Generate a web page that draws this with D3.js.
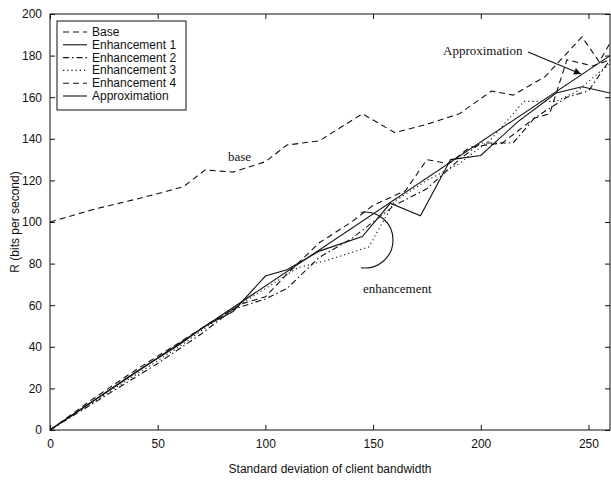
<!DOCTYPE html>
<html><head><meta charset="utf-8">
<script src="https://cdn.jsdelivr.net/npm/d3@7/dist/d3.min.js"></script>
<style>body{margin:0;background:#fff}svg{display:block}</style>
</head><body>
<svg id="c" width="611" height="489"></svg>
<script>
const xTicks = [0, 50, 100, 150, 200, 250];
const yTicks = [0, 20, 40, 60, 80, 100, 120, 140, 160, 180, 200];
const seriesNames = ["Base", "Enhancement 1", "Enhancement 2", "Enhancement 3", "Enhancement 4", "Approximation"];
const base = [[0,100],[20,106],[40,111],[55,115],[62,117],[72,125],[85,124],[100,129],[110,137],[125,139],[145,152],[160,143],[175,147],[190,152],[205,163],[215,161],[230,170],[247,189],[255,177],[260,186]];
const enh1 = [[0,0],[20,14],[40,28],[60,41],[72,50],[85,57],[100,74],[110,77],[125,86],[145,93],[158,109],[172,103],[186,130],[200,132],[217,148],[235,162],[247,165],[260,162]];
const enh2 = [[0,0],[25,16],[50,32],[70,46],[85,58],[100,63],[110,68],[125,83],[140,92],[150,100],[160,108],[175,116],[190,130],[200,138],[215,138],[225,150],[240,160],[250,163],[260,178]];
const enh3 = [[0,0],[30,20],[60,40],[80,55],[100,68],[115,78],[130,82],[148,88],[160,110],[175,120],[190,128],[205,140],[220,158],[235,158],[245,163],[255,172],[260,176]];
const enh4 = [[0,0],[20,15],[40,29],[60,42],[75,52],[90,61],[100,64],[110,75],[125,90],[140,100],[150,108],[165,115],[175,130],[185,128],[195,136],[210,138],[225,150],[232,152],[240,178],[252,175],[260,178]];
const approx = [[0,0],[260,180]];

const svg = d3.select("#c");
const L = 50, R = 610, T = 14, B = 430;
const x = d3.scaleLinear().domain([0, 260]).range([L, R]);
const y = d3.scaleLinear().domain([0, 200]).range([B, T]);

const ink = "#111";
const tickFont = "Liberation Sans, Arial, sans-serif";
const serif = "Liberation Serif, Times New Roman, serif";

const gx = svg.append("g").attr("transform", `translate(0,${B})`)
  .call(d3.axisBottom(x).tickValues(xTicks).tickSizeInner(-5).tickSizeOuter(0).tickPadding(9));
const gxt = svg.append("g").attr("transform", `translate(0,${T})`)
  .call(d3.axisTop(x).tickValues(xTicks).tickSizeInner(-5).tickSizeOuter(0).tickFormat(""));
const gy = svg.append("g").attr("transform", `translate(${L},0)`)
  .call(d3.axisLeft(y).tickValues(yTicks).tickSizeInner(-5).tickSizeOuter(0).tickPadding(8));
const gyr = svg.append("g").attr("transform", `translate(${R},0)`)
  .call(d3.axisRight(y).tickValues(yTicks).tickSizeInner(-5).tickSizeOuter(0).tickFormat(""));
[gx, gxt, gy, gyr].forEach(g => {
  g.select(".domain").remove();
  g.selectAll("line").attr("stroke", ink);
  g.selectAll("text").attr("fill", ink).attr("font-family", tickFont).attr("font-size", 12);
});
svg.append("rect").attr("x", L).attr("y", T).attr("width", R - L).attr("height", B - T)
  .attr("fill", "none").attr("stroke", ink).attr("stroke-width", 1);

svg.append("text").attr("x", (L + R) / 2).attr("y", 473).attr("text-anchor", "middle")
  .attr("font-family", tickFont).attr("font-size", 12).attr("fill", ink)
  .text("Standard deviation of client bandwidth");
svg.append("text").attr("transform", `translate(19,${(T + B) / 2}) rotate(-90)`).attr("text-anchor", "middle")
  .attr("font-family", tickFont).attr("font-size", 12).attr("fill", ink)
  .text("R  (bits per second)");

const styles = [
  {data: base, dash: "6,4"},
  {data: enh1, dash: null},
  {data: enh2, dash: "6,3,1.5,3"},
  {data: enh3, dash: "1.2,3"},
  {data: enh4, dash: "6,4"},
  {data: approx, dash: null}
];
const line = d3.line().x(d => x(d[0])).y(d => y(d[1]));
svg.append("clipPath").attr("id", "pc").append("rect")
  .attr("x", L).attr("y", T).attr("width", R - L).attr("height", B - T);
const plot = svg.append("g").attr("clip-path", "url(#pc)");
styles.forEach(s => {
  plot.append("path").attr("d", line(s.data)).attr("fill", "none").attr("stroke", ink)
    .attr("stroke-width", 1.1).attr("stroke-dasharray", s.dash);
});

const lg = svg.append("g");
lg.append("rect").attr("x", 57).attr("y", 21).attr("width", 129).attr("height", 89)
  .attr("fill", "#fff").attr("stroke", ink).attr("stroke-width", 1);
seriesNames.forEach((n, i) => {
  const yy = 32 + i * 12.8;
  lg.append("line").attr("x1", 63).attr("x2", 87).attr("y1", yy).attr("y2", yy)
    .attr("stroke", ink).attr("stroke-width", 1.1).attr("stroke-dasharray", styles[i].dash);
  lg.append("text").attr("x", 92).attr("y", yy + 4).attr("font-family", tickFont)
    .attr("font-size", 12).attr("fill", ink).text(n);
});

svg.append("text").attr("x", 228).attr("y", 161).attr("font-family", serif).attr("font-size", 13)
  .attr("fill", ink).text("base");
svg.append("text").attr("x", 363).attr("y", 293).attr("font-family", serif).attr("font-size", 13)
  .attr("fill", ink).text("enhancement");
const arc = d3.arc().innerRadius(28).outerRadius(28).startAngle(-0.15).endAngle(Math.PI + 0.15);
svg.append("path").attr("transform", "translate(365,240)").attr("d", arc())
  .attr("fill", "none").attr("stroke", ink).attr("stroke-width", 1.1);
svg.append("text").attr("x", 443).attr("y", 55).attr("font-family", serif).attr("font-size", 13)
  .attr("fill", ink).text("Approximation");
svg.append("defs").append("marker").attr("id", "ah").attr("viewBox", "0 0 10 10")
  .attr("refX", 10).attr("refY", 5).attr("markerWidth", 9).attr("markerHeight", 7)
  .attr("orient", "auto").attr("markerUnits", "userSpaceOnUse")
  .append("path").attr("d", "M0,0L10,5L0,10z").attr("fill", ink);
svg.append("line").attr("x1", 528).attr("y1", 52).attr("x2", 581).attr("y2", 74)
  .attr("stroke", ink).attr("stroke-width", 1.1).attr("marker-end", "url(#ah)");
</script>
</body></html>
